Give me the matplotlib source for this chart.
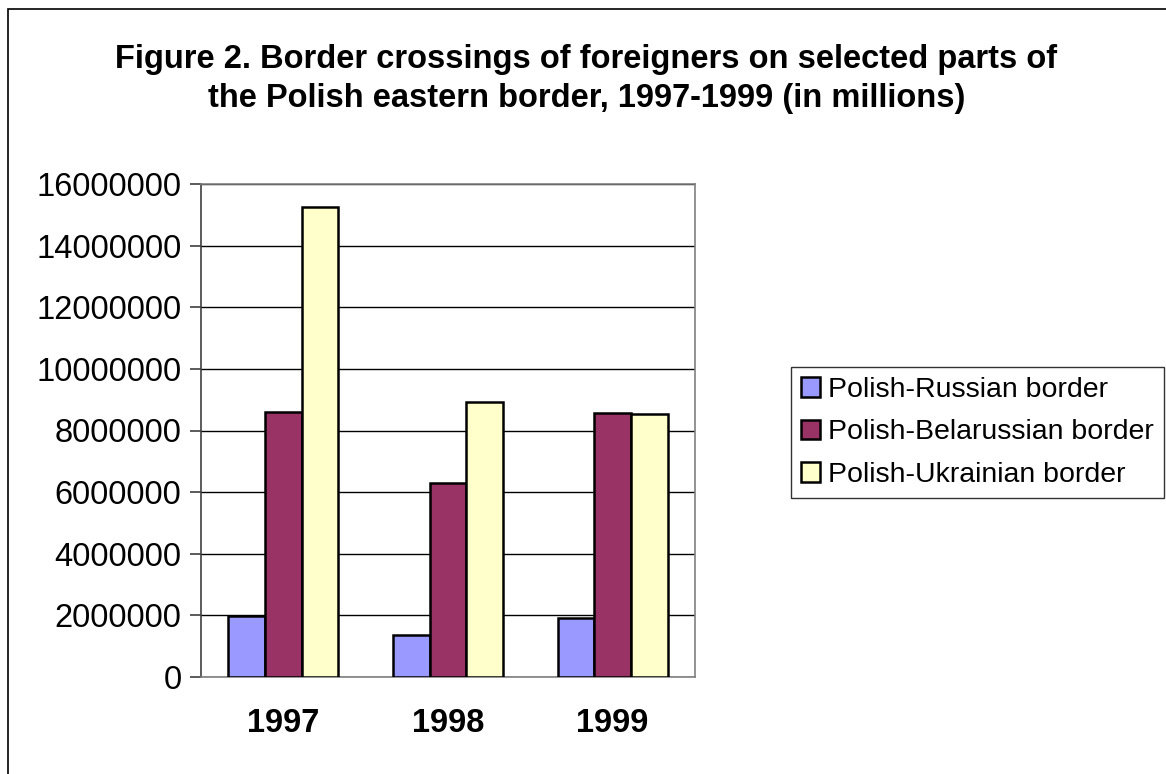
import numpy as np
import matplotlib.pyplot as plt
from matplotlib.patches import Rectangle

plt.rcParams["font.family"] = ["Liberation Sans", "DejaVu Sans"]

years = ["1997", "1998", "1999"]
series = ["Polish-Russian border", "Polish-Belarussian border", "Polish-Ukrainian border"]
russian = [1970000, 1375000, 1900000]
belarus = [8610000, 6300000, 8560000]
ukraine = [15240000, 8940000, 8540000]
colors = ["#9999ff", "#993366", "#ffffcc"]

W, H = 1166, 774
fig = plt.figure(figsize=(W / 100, H / 100), dpi=100)
ax = fig.add_axes([201 / W, 1 - 677 / H, 494 / W, 493 / H])

# outer chart frame
fig.patches.append(Rectangle((8 / W, -0.01), 1.2, 1 - 9 / H + 0.01, transform=fig.transFigure,
                             fill=False, edgecolor="black", linewidth=1.2))

x = np.arange(len(years))
bw = 0.222
for i, (vals, c, lab) in enumerate(zip([russian, belarus, ukraine], colors, series)):
    ax.bar(x + (i - 1) * bw, vals, bw, color=c, edgecolor="black", linewidth=1.8,
           label=lab, zorder=3)

ax.set_xlim(-0.5, 2.5)
ax.set_ylim(0, 16000000)
ax.set_yticks(np.arange(0, 16000001, 2000000))
ax.set_yticklabels([str(v) for v in range(0, 16000001, 2000000)], fontsize=23.5)
ax.set_xticks(x)
ax.set_xticklabels(years, fontsize=23.5, fontweight="bold")
ax.tick_params(axis="x", length=0, pad=22)
ax.tick_params(axis="y", direction="out", length=8, width=1.2, color="#404040", pad=6)
ax.yaxis.grid(True, color="black", linewidth=1, zorder=0)
for s in ["top", "right", "bottom"]:
    ax.spines[s].set_color("#808080")
    ax.spines[s].set_linewidth(1.2)
ax.spines["left"].set_color("#404040")
ax.spines["left"].set_linewidth(1.2)

fig.text(0.503, 1 - 79 / H, "Figure 2. Border crossings of foreigners on selected parts of\n"
         "the Polish eastern border, 1997-1999 (in millions)",
         ha="center", va="center", fontsize=23.5, fontweight="bold", linespacing=1.35)

leg = fig.legend(loc="upper left", bbox_to_anchor=(791 / W, 1 - 367 / H), fontsize=20.5,
                 frameon=True, fancybox=False, edgecolor="black", borderpad=0.35,
                 handlelength=0.68, handleheight=0.68, handletextpad=0.28, labelspacing=0.58,
                 borderaxespad=0)
leg.get_frame().set_linewidth(1)

fig.savefig("out.png", dpi=100)
